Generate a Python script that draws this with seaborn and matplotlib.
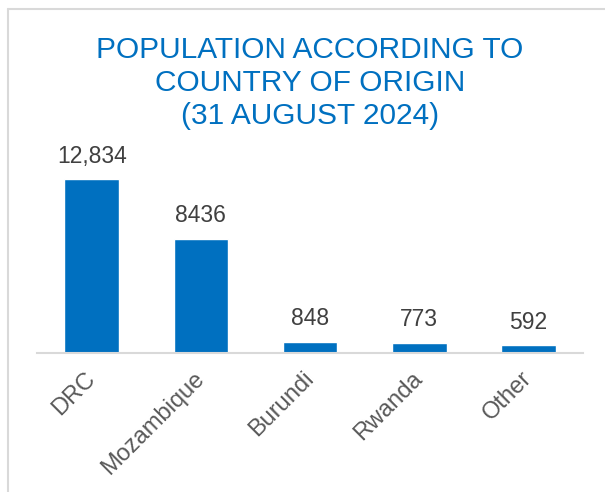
import matplotlib
matplotlib.use("Agg")
import matplotlib.pyplot as plt
from matplotlib.lines import Line2D
import seaborn as sns
import pandas as pd

# 데이터
countries = ["DRC", "Mozambique", "Burundi", "Rwanda", "Other"]
population = [12834, 8436, 848, 773, 592]
value_labels = ["12,834", "8436", "848", "773", "592"]

df = pd.DataFrame({"country": countries, "population": population})

sns.set_style("white")
plt.rcParams["font.family"] = ["Liberation Sans", "DejaVu Sans"]

fig = plt.figure(figsize=(6.05, 4.92), dpi=100)
ax = fig.add_axes([0.0612, 0.2825, 0.9025, 0.4329])

sns.barplot(data=df, x="country", y="population", color="#0070C0",
            saturation=1, width=0.5, ax=ax)

ax.set_xlim(-0.5, 4.5)
ax.set_ylim(0, 15700)
ax.bar_label(ax.containers[0], labels=value_labels, padding=8,
             fontsize=16.5, color="#404040")

# 축 정리
for s in ["top", "right", "left"]:
    ax.spines[s].set_visible(False)
ax.spines["bottom"].set_color("#D9D9D9")
ax.spines["bottom"].set_linewidth(1.5)
ax.set_yticks([])
ax.set_xlabel("")
ax.set_ylabel("")
ax.tick_params(axis="x", length=0, pad=16)
plt.setp(ax.get_xticklabels(), rotation=45, ha="right", va="center",
         rotation_mode="anchor", fontsize=17, color="#595959")

# 제목
fig.text(0.5124, 0.927, "POPULATION ACCORDING TO\nCOUNTRY OF ORIGIN\n(31 AUGUST 2024)",
         ha="center", va="top", fontsize=21.5, color="#0070C0", linespacing=1.22)

# 테두리
fig.add_artist(Line2D([7.5 / 605, 7.5 / 605], [0, 1 - 9 / 492], color="#D9D9D9",
                      lw=1.5, transform=fig.transFigure))
fig.add_artist(Line2D([7.5 / 605, 1], [1 - 9 / 492, 1 - 9 / 492], color="#D9D9D9",
                      lw=1.5, transform=fig.transFigure))

fig.savefig("out.png", dpi=100)
